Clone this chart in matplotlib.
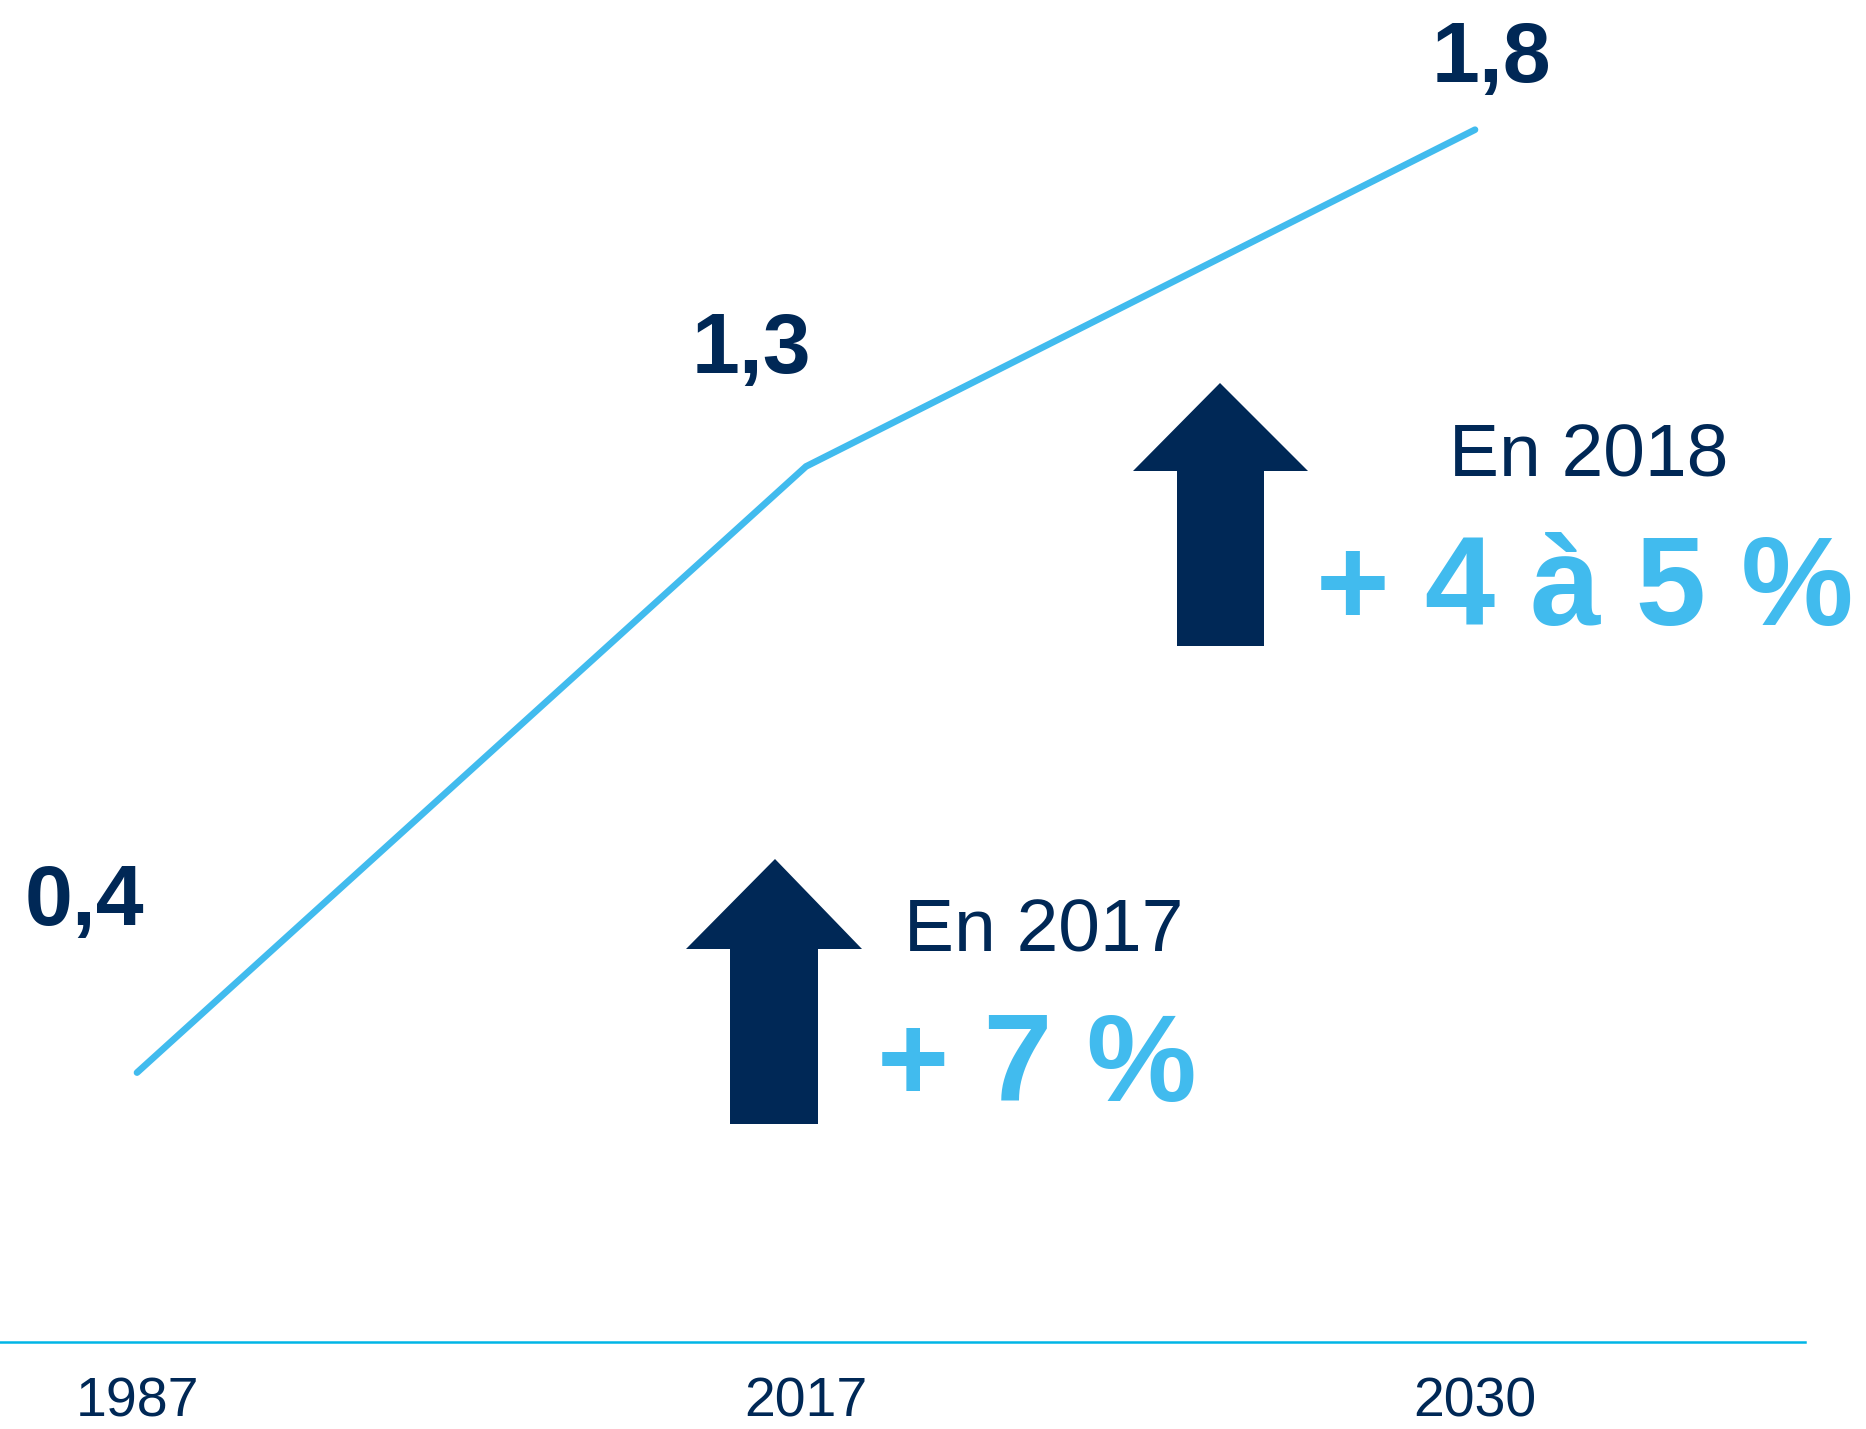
import matplotlib.pyplot as plt
from matplotlib.patches import Polygon

years = ["1987", "2017", "2030"]
values = [0.4, 1.3, 1.8]
value_labels = ["0,4", "1,3", "1,8"]
# offsets of the value labels from their points, in pixels
label_offsets = [(-53, 148), (-55, 93), (16, 48)]

navy = "#002856"
light_blue = "#41BBEE"
axis_blue = "#00B5E6"

W, H = 1866, 1429
fig = plt.figure(figsize=(W / 100, H / 100), dpi=100)
plt.rcParams["font.family"] = ["Liberation Sans", "DejaVu Sans"]

ax = fig.add_axes([0, 87 / H, 1805 / W, 1 - 87 / H])
x = list(range(len(years)))
ax.plot(x, values, color=light_blue, lw=4.8, solid_capstyle="round", solid_joinstyle="miter")
ax.set_xlim(-137 / 669, (1805 - 137) / 669)
ax.set_ylim(0, 1342 / 673.5)

for s in ["top", "left", "right"]:
    ax.spines[s].set_visible(False)
ax.spines["bottom"].set_color(axis_blue)
ax.spines["bottom"].set_linewidth(1.8)
ax.set_yticks([])
ax.set_xticks(x, labels=years)
ax.tick_params(axis="x", length=0, pad=25, labelsize=40, labelcolor=navy)

for xi, v, lab, off in zip(x, values, value_labels, label_offsets):
    ax.annotate(lab, (xi, v), xytext=off, textcoords="offset pixels",
                ha="center", va="baseline", fontsize=62, fontweight="bold", color=navy)


def px(xp, yp):
    return (xp / W, 1 - yp / H)


def up_arrow(tip_x, tip_y, head_y, head_l, head_r, shaft_l, shaft_r, bottom):
    pts = [px(tip_x, tip_y), px(head_r, head_y), px(shaft_r, head_y), px(shaft_r, bottom),
           px(shaft_l, bottom), px(shaft_l, head_y), px(head_l, head_y)]
    fig.patches.append(Polygon(pts, closed=True, transform=fig.transFigure,
                               facecolor=navy, edgecolor="none"))


up_arrow(775, 859, 949, 686, 862, 730, 818, 1124)
up_arrow(1220, 383, 471, 1133, 1308, 1177, 1264, 646)

fig.text(*px(904, 952), "En 2017", fontsize=54, color=navy, va="baseline")
fig.text(*px(877, 1101), "+ 7 %", fontsize=89, fontweight="bold", color=light_blue, va="baseline")
fig.text(*px(1449, 476), "En 2018", fontsize=54, color=navy, va="baseline")
fig.text(*px(1316, 625), "+ 4 à 5 %", fontsize=91, fontweight="bold", color=light_blue, va="baseline")

fig.savefig("out.png", dpi=100)
